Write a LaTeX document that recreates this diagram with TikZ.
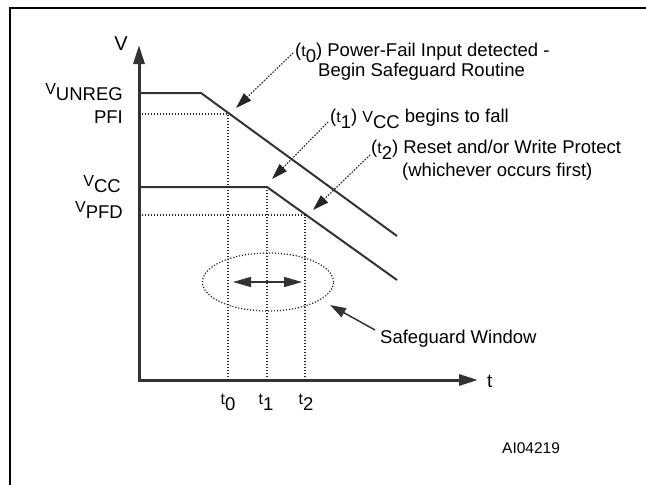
\documentclass[tikz,border=0pt]{standalone}
\usepackage{fontspec}
\setmainfont{Liberation Sans}
\usetikzlibrary{arrows.meta}
\newcommand\lsub[2]{{\fontsize{16}{16}\selectfont #1}\raisebox{-6.5pt}{#2}}
\tikzset{
  bigtip/.tip={Triangle[length=19pt,width=11pt]},
  midtip/.tip={Triangle[length=18pt,width=10pt]},
  smalltip/.tip={Triangle[length=16pt,width=10pt]}
}
\begin{document}
\begin{tikzpicture}[x=1pt,y=-1pt,
  lbl/.style={font=\fontsize{18.5}{20}\selectfont, inner sep=0pt, text=black},
  curve/.style={line width=2pt, draw=black!80},
  axis/.style={line width=3pt, draw=black!80},
  dotln/.style={line width=1.2pt, dash pattern=on 1.2pt off 1.8pt, draw=black!85},
  dotarrow/.style={dotln, -{smalltip}, fill=black!80}
]
\useasboundingbox (0,0) rectangle (646,485);
% frame (top and left edges only visible)
\draw[line width=2.8pt, black] (10,490) -- (10,8) -- (652,8);

% axes
\coordinate (vtop) at (139,45);
\coordinate (orig) at (139,380);
\coordinate (tend) at (478,380);
\draw[axis, {bigtip}-{bigtip}] (vtop) -- (orig) -- (tend);
\node[lbl, font=\fontsize{20}{20}\selectfont, anchor=base east] (vlab) at (128,50) {V};
\node[lbl, font=\fontsize{19}{20}\selectfont, anchor=base west] (tlab) at (487,387) {t};

% supply curves
\coordinate (u0) at (139,93);
\coordinate (u1) at (201,93);
\coordinate (u2) at (397,236);
\coordinate (c0) at (139,187);
\coordinate (c1) at (267,187);
\coordinate (c2) at (397,280);
\draw[curve] (u0) -- (u1) -- (u2);
\draw[curve] (c0) -- (c1) -- (c2);

% dotted levels and times
\coordinate (p0) at (139,114);
\coordinate (p1) at (228,114);
\coordinate (p2) at (228,380);
\coordinate (f0) at (139,215);
\coordinate (f1) at (305,215);
\coordinate (f2) at (305,380);
\coordinate (m2) at (267,380);
\draw[dotln] (p0) -- (p1) -- (p2);
\draw[dotln] (f0) -- (f1) -- (f2);
\draw[dotln] (c1) -- (m2);

% level labels
\node[lbl, anchor=base east] (vunreg) at (123,94) {\lsub{V}{UNREG}};
\node[lbl, anchor=base east] (pfi) at (123,123) {PFI};
\node[lbl, anchor=base east] (vcc) at (121,186) {\lsub{V}{CC}};
\node[lbl, anchor=base east] (vpfd) at (123,212) {\lsub{V}{PFD}};

% time labels
\node[lbl, anchor=base] (t0) at (228,404) {\lsub{t}{0}};
\node[lbl, anchor=base] (t1) at (266,404) {\lsub{t}{1}};
\node[lbl, anchor=base] (t2) at (306,404) {\lsub{t}{2}};

% safeguard window
\coordinate (wc) at (268,282);
\draw[dotln] (wc) ellipse [x radius=65.5pt, y radius=29pt];
\coordinate (wl) at (233,282);
\coordinate (wr) at (302,282);
\draw[line width=1.5pt, draw=black!80, fill=black!80, {midtip}-{midtip}] (wl) -- (wr);
\node[lbl, anchor=base west] (sw) at (380,343) {Safeguard Window};
\coordinate (sws) at (375,330);
\coordinate (swt) at (330,305);
\draw[line width=1.5pt, draw=black!80, fill=black!80, -{smalltip}] (sws) -- (swt);

% annotations
\node[lbl, anchor=base west] (a0) at (295,56) {(\lsub{t}{0}) Power-Fail Input detected -};
\node[lbl, anchor=base west] (b0) at (318,76) {Begin Safeguard Routine};
\node[lbl, anchor=base west] (a1) at (330,122) {(\lsub{t}{1}) \lsub{V}{CC} begins to fall};
\node[lbl, anchor=base west] (a2) at (371,153) {(\lsub{t}{2}) Reset and/or Write Protect};
\node[lbl, anchor=base west] (b2) at (402,176) {(whichever occurs first)};

\coordinate (s0) at (293,53);
\coordinate (e0) at (236,108);
\coordinate (s1) at (328,122);
\coordinate (e1) at (272,179);
\coordinate (s2) at (370,155);
\coordinate (e2) at (313,210);
\draw[dotarrow] (s0) -- (e0);
\draw[dotarrow] (s1) -- (e1);
\draw[dotarrow] (s2) -- (e2);

\node[lbl, font=\fontsize{15.5}{16}\selectfont, anchor=base west] (ai) at (502,453) {AI04219};
\end{tikzpicture}
\end{document}
